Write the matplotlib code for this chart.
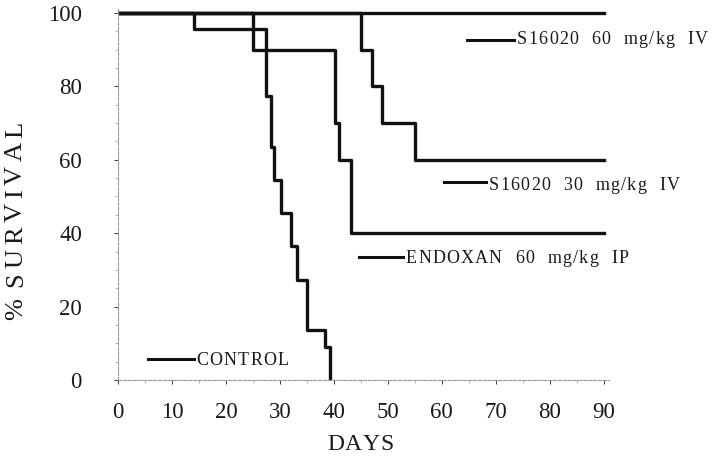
import matplotlib
matplotlib.use("Agg")
import matplotlib.pyplot as plt
import numpy as np

# survival curves (step at each death day)
control_days = [0, 14, 27.4, 28.3, 29, 30.2, 32.1, 33.2, 35.1, 38.4, 39.3]
control_surv = [100, 95.5, 77.3, 63.6, 54.5, 45.5, 36.4, 27.3, 13.6, 9.1, 0]

endoxan_days = [0, 25, 40.3, 41, 43.1, 90]
endoxan_surv = [100, 90, 70, 60, 40, 40]

s30_days = [0, 45, 47, 49, 55, 90]
s30_surv = [100, 90, 80, 70, 60, 60]

s60_days = [0, 90]
s60_surv = [100, 100]

labels = ["S16020 60 mg/kg IV", "S16020 30 mg/kg IV",
          "ENDOXAN 60 mg/kg IP", "CONTROL"]
xticks = [0, 10, 20, 30, 40, 50, 60, 70, 80, 90]
yticks = [0, 20, 40, 60, 80, 100]

plt.rcParams['font.family'] = ['Liberation Serif', 'DejaVu Serif']
INK = '#1a1a1a'

W, H = 715, 458
fig = plt.figure(figsize=(W / 100, H / 100), dpi=100)
x0, x1 = 118, 609
y0, y1 = 380, 9.3
ax = fig.add_axes([x0 / W, 1 - y0 / H, (x1 - x0) / W, (y0 - y1) / H])
ax.set_xlim(0, 91)
ax.set_ylim(0, 101)

lw = 2.4
for d, s in [(control_days, control_surv), (endoxan_days, endoxan_surv),
             (s30_days, s30_surv), (s60_days, s60_surv)]:
    ax.step(d, s, where='post', color='#111111', lw=lw)

for s in ['top', 'right']:
    ax.spines[s].set_visible(False)
for s in ['left', 'bottom']:
    ax.spines[s].set_color('#999999')
    ax.spines[s].set_linewidth(0.8)
    ax.spines[s].set_linestyle((0, (3, 1.5)))

ax.set_xticks(xticks)
ax.set_yticks(yticks)
ax.set_xticks(np.arange(0, 91, 5), minor=True)
ax.set_yticks(np.arange(0, 101, 5), minor=True)
ax.tick_params(which='both', color='#aaaaaa', width=0.6)
ax.tick_params(which='major', length=3, labelsize=16.5, colors=INK)
ax.tick_params(which='minor', length=2)
ax.tick_params(axis='x', which='major', pad=13)
ax.tick_params(axis='y', which='major', pad=23)

renderer = fig.canvas.get_renderer()


def spaced(x, y, s, size, gap=None, width=None, rotation=0, space=None):
    # letter-spaced text; x, y are pixels from the top-left (baseline start)
    ws = []
    for ch in s:
        if ch == ' ':
            ws.append(None)
            continue
        t = fig.text(0, 0, ch, fontsize=size)
        ws.append(t.get_window_extent(renderer).width)
        t.remove()
    if space is None:
        space = size * 100 / 72 * 0.25
    used = sum(w for w in ws if w) + space * ws.count(None)
    if width is not None:
        gap = max((width - used) / (len(s) - 1), 0)
    pos = 0
    for ch, w in zip(s, ws):
        if w is None:
            pos += space
            continue
        if rotation == 0:
            fig.text((x + pos) / W, 1 - y / H, ch, fontsize=size, color=INK,
                     ha='left', va='baseline')
        else:
            fig.text(x / W, 1 - (y - pos) / H, ch, fontsize=size, color=INK,
                     ha='center', va='bottom', rotation=90)
        pos += w + gap


# axis titles
spaced(327, 450, 'DAYS', 17, width=67)
spaced(16, 320, '% SURVIVAL', 19, width=203, rotation=90)

# inline labels with a short line in front of each
def tag(xa, xb, y, text, base, **kw):
    ax.plot([xa, xb], [y, y], color='#111111', lw=2.2, clip_on=False)
    spaced(ax.transData.transform((xb, 0))[0] + 3, base, text, 13,
           space=12, **kw)

tag(64.7, 73.4, 92.6, labels[0], 44, gap=1.2)
tag(60.4, 68.2, 53.9, labels[1], 190, gap=1.2)
tag(44.7, 52.8, 33.5, labels[2], 263, gap=1.2)
tag(5.5, 14, 5.7, labels[3], 365, gap=1.2)

fig.savefig('out.png', dpi=100, facecolor='white')
